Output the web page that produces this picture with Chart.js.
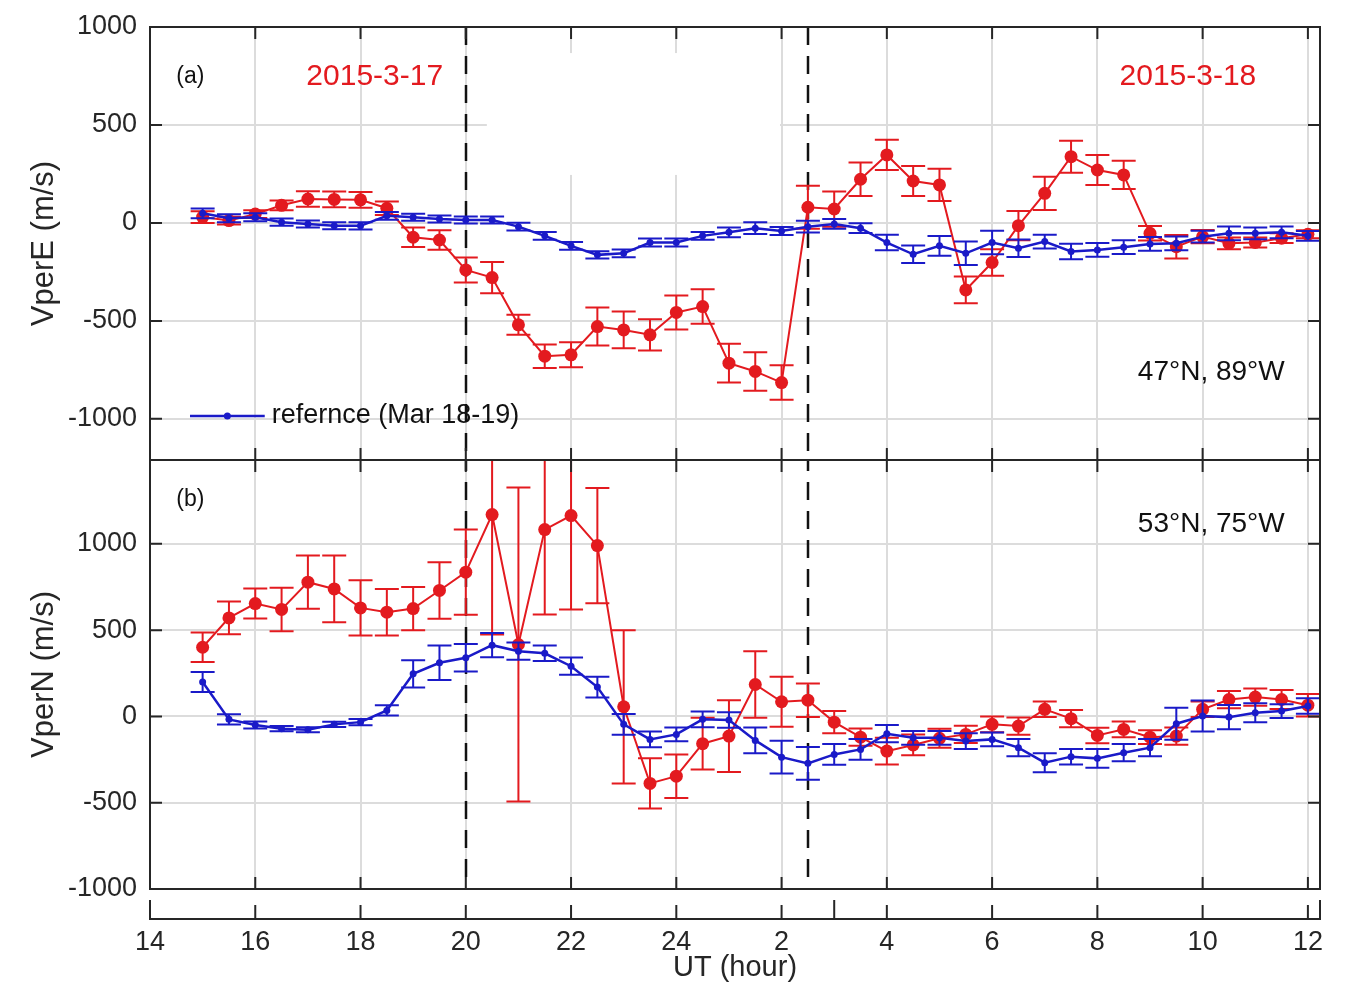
<!DOCTYPE html>
<html>
<head>
<meta charset="utf-8">
<title>VperE / VperN</title>
<script src="https://cdn.jsdelivr.net/npm/chart.js@4.4.1/dist/chart.umd.min.js"></script>
<style>
  html, body { margin: 0; padding: 0; background: #fff; }
  #wrap { position: relative; width: 1353px; height: 993px; }
  canvas { position: absolute; left: 0; }
  #chartA { top: 0; }
  #chartB { top: 460px; }
</style>
</head>
<body>
<div id="wrap">
  <canvas id="chartA" width="1353" height="460"></canvas>
  <canvas id="chartB" width="1353" height="533"></canvas>
</div>
<script>
// UT hours, values above 24 are on 2015-3-18
const hours = [15, 15.5, 16, 16.5, 17, 17.5, 18, 18.5, 19, 19.5, 20, 20.5, 21, 21.5, 22, 22.5,
  23, 23.5, 24, 24.5, 25, 25.5, 26, 26.5, 27, 27.5, 28, 28.5, 29, 29.5, 30, 30.5,
  31, 31.5, 32, 32.5, 33, 33.5, 34, 34.5, 35, 35.5, 36];

// (a) VperE, storm day
const vperE = [30, 12, 45, 90, 122, 120, 118, 75, -73, -87, -240, -279, -520, -680, -673, -529,
  -546, -571, -457, -427, -716, -758, -815, 80, 71, 223, 347, 214, 194, -342, -202, -14,
  151, 338, 270, 245, -53, -121, -70, -104, -100, -78, -58];
const vperEErr = [30, 20, 20, 25, 40, 40, 40, 35, 50, 50, 64, 80, 51, 60, 64, 97,
  94, 80, 87, 88, 99, 98, 88, 110, 90, 85, 77, 77, 82, 68, 68, 75,
  85, 82, 77, 72, 37, 60, 34, 30, 25, 25, 20];
// (a) VperE, reference days
const refE = [49, 24, 29, 4, -5, -14, -15, 36, 29, 20, 15, 15, -19, -66, -117, -163,
  -155, -100, -100, -66, -48, -27, -41, -19, -5, -27, -100, -160, -117, -155, -100, -129,
  -95, -146, -138, -124, -107, -104, -70, -53, -53, -48, -66];
const refEErr = [25, 20, 20, 18, 18, 18, 18, 20, 18, 18, 18, 18, 20, 20, 20, 18,
  20, 20, 20, 20, 25, 30, 20, 30, 25, 25, 40, 45, 50, 60, 60, 45,
  35, 40, 35, 35, 35, 35, 30, 35, 30, 30, 25];

// (b) VperN, storm day
const vperN = [401, 571, 654, 620, 778, 739, 629, 604, 625, 730, 836, 1170, 417, 1083, 1164, 990,
  56, -388, -346, -158, -114, 185, 85, 94, -33, -120, -201, -165, -127, -104, -46, -56,
  41, -13, -110, -75, -120, -114, 41, 98, 112, 98, 65];
const vperNErr = [85, 95, 87, 126, 154, 193, 160, 135, 125, 164, 247, 695, 910, 493, 544, 334,
  444, 145, 126, 150, 208, 193, 145, 97, 64, 50, 77, 60, 55, 50, 45, 50,
  45, 50, 45, 45, 40, 50, 45, 50, 50, 55, 65];
// (b) VperN, reference days
const refN = [199, -17, -50, -71, -77, -46, -33, 35, 247, 311, 340, 413, 378, 366, 291, 170,
  -46, -133, -104, -17, -21, -139, -236, -272, -220, -191, -100, -124, -124, -143, -133, -181,
  -268, -233, -243, -210, -181, -42, 2, -4, 21, 31, 60];
const refNErr = [58, 30, 20, 15, 15, 15, 18, 30, 79, 100, 80, 70, 50, 45, 50, 60,
  60, 45, 40, 45, 45, 75, 95, 95, 60, 60, 50, 40, 40, 45, 40, 50,
  55, 45, 55, 50, 50, 93, 90, 70, 55, 40, 45];

const xTicks = [14, 16, 18, 20, 22, 24, 26, 28, 30, 32, 34, 36];
const yTicks = [-1000, -500, 0, 500, 1000];
const eventLines = [20, 26.5];
const legendLabel = 'refernce (Mar 18-19)';

const RED = '#e31a1f';
const BLUE = '#1a1ac8';
const INK = '#262626';
const GRID = '#dcdcdc';
const FONT = "'Liberation Sans', Arial, Helvetica, sans-serif";

const series = vals => hours.map((h, i) => ({ x: h, y: vals[i] }));

// error bars drawn right before each dataset's line
const errorBars = {
  id: 'errorBars',
  beforeDatasetDraw(chart, args) {
    const ds = chart.data.datasets[args.index];
    if (!ds.errors) return;
    const { ctx, chartArea: a } = chart;
    const xs = args.meta.xScale, ys = args.meta.yScale;
    const cap = 12;
    ctx.save();
    ctx.beginPath();
    ctx.rect(a.left, a.top, a.right - a.left, a.bottom - a.top);
    ctx.clip();
    ctx.strokeStyle = ds.borderColor;
    ctx.lineWidth = 2;
    ctx.beginPath();
    ds.data.forEach((p, i) => {
      const px = xs.getPixelForValue(p.x);
      const t = ys.getPixelForValue(p.y + ds.errors[i]);
      const b = ys.getPixelForValue(p.y - ds.errors[i]);
      ctx.moveTo(px, t); ctx.lineTo(px, b);
      ctx.moveTo(px - cap, t); ctx.lineTo(px + cap, t);
      ctx.moveTo(px - cap, b); ctx.lineTo(px + cap, b);
    });
    ctx.stroke();
    ctx.restore();
  }
};

// frame, inside ticks, dashed event lines, labels, legend
const panel = {
  id: 'panel',
  beforeDatasetsDraw(chart, args, opts) {
    const { ctx, chartArea: a, scales: { x, y } } = chart;
    ctx.save();
    if (opts.blank) {
      const b = opts.blank;
      ctx.fillStyle = '#fff';
      const x0 = x.getPixelForValue(b.x0), x1 = x.getPixelForValue(b.x1);
      const y0 = y.getPixelForValue(b.y1), y1 = y.getPixelForValue(b.y0);
      ctx.fillRect(x0, y0, x1 - x0, y1 - y0);
    }
    ctx.strokeStyle = '#111';
    ctx.lineWidth = 2.5;
    ctx.setLineDash([18, 11]);
    ctx.lineDashOffset = opts.dashOffset || 0;
    eventLines.forEach(v => {
      const px = Math.round(x.getPixelForValue(v));
      ctx.beginPath();
      ctx.moveTo(px, a.top);
      ctx.lineTo(px, a.bottom);
      ctx.stroke();
    });
    ctx.restore();
  },
  afterDraw(chart, args, opts) {
    const { ctx, chartArea: a, scales: { x, y } } = chart;
    const len = 12;
    ctx.save();
    ctx.strokeStyle = INK;
    ctx.lineWidth = 2;
    ctx.beginPath();
    xTicks.forEach(v => {
      const px = x.getPixelForValue(v);
      ctx.moveTo(px, a.top); ctx.lineTo(px, a.top + len);
      ctx.moveTo(px, a.bottom); ctx.lineTo(px, a.bottom - len);
    });
    yTicks.forEach(v => {
      const py = y.getPixelForValue(v);
      ctx.moveTo(a.left, py); ctx.lineTo(a.left + len, py);
      ctx.moveTo(a.right, py); ctx.lineTo(a.right - len, py);
    });
    ctx.stroke();
    ctx.strokeRect(a.left, a.top, a.right - a.left, a.bottom - a.top);

    (opts.labels || []).forEach(l => {
      ctx.font = l.font;
      ctx.fillStyle = l.color;
      ctx.textAlign = l.align;
      ctx.textBaseline = 'middle';
      ctx.fillText(l.text, x.getPixelForValue(l.x), y.getPixelForValue(l.y));
    });

    if (opts.legend) {
      const lg = opts.legend;
      const ds = chart.data.datasets[0];
      const x0 = x.getPixelForValue(lg.x0), x1 = x.getPixelForValue(lg.x1);
      const py = y.getPixelForValue(lg.y);
      ctx.strokeStyle = ds.borderColor;
      ctx.lineWidth = ds.borderWidth;
      ctx.beginPath(); ctx.moveTo(x0, py); ctx.lineTo(x1, py); ctx.stroke();
      ctx.fillStyle = ds.borderColor;
      ctx.beginPath(); ctx.arc((x0 + x1) / 2, py, ds.pointRadius, 0, Math.PI * 2); ctx.fill();
      ctx.font = '27px ' + FONT;
      ctx.fillStyle = '#111';
      ctx.textAlign = 'left';
      ctx.textBaseline = 'middle';
      ctx.fillText(ds.label, x1 + 7, py);
    }

    if (opts.strip) {
      // separate time axis line under panel (b)
      const sy = opts.strip.y;
      ctx.strokeStyle = INK;
      ctx.lineWidth = 2;
      ctx.beginPath();
      ctx.moveTo(a.left, sy - 19); ctx.lineTo(a.left, sy);
      ctx.lineTo(a.right, sy); ctx.lineTo(a.right, sy - 19);
      xTicks.forEach(v => {
        const px = x.getPixelForValue(v);
        ctx.moveTo(px, sy); ctx.lineTo(px, sy - 14);
      });
      const mk = x.getPixelForValue(opts.strip.mark);
      ctx.moveTo(mk, sy); ctx.lineTo(mk, sy - 19);
      ctx.stroke();
    }
    ctx.restore();
  }
};

// drop the extra room Chart.js keeps for end labels
function noPad(s) {
  s.paddingTop = 0; s.paddingBottom = 0; s.paddingLeft = 0; s.paddingRight = 0;
}

function yScale(min, max, title) {
  return {
    type: 'linear',
    min: min,
    max: max,
    afterBuildTicks: s => { s.ticks = yTicks.map(v => ({ value: v })); },
    afterFit: s => { s.width = 150; noPad(s); },
    ticks: { color: INK, padding: 13, font: { family: FONT, size: 27 }, callback: v => String(v) },
    grid: { color: GRID, lineWidth: 2, drawTicks: false },
    border: { display: false },
    title: { display: true, text: title, color: INK, padding: { top: 26, bottom: 0 },
      font: { family: FONT, size: 31 } }
  };
}

function xScale(showLabels) {
  return {
    type: 'linear',
    min: 14,
    max: 36.23,
    afterBuildTicks: s => { s.ticks = xTicks.map(v => ({ value: v })); },
    afterFit: s => { s.height = showLabels ? 104 : 0; noPad(s); },
    ticks: {
      display: showLabels,
      autoSkip: false,
      maxRotation: 0,
      padding: 37,
      color: INK,
      font: { family: FONT, size: 27 },
      callback: v => String(v > 24 ? v - 24 : v)
    },
    grid: { color: GRID, lineWidth: 2, drawTicks: false },
    border: { display: false },
    title: { display: showLabels, text: 'UT (hour)', color: INK, padding: { top: 0, bottom: 8 },
      font: { family: FONT, size: 29 } }
  };
}

function datasets(storm, stormErr, ref, refErr, storyLabel) {
  return [
    { label: legendLabel, data: series(ref), errors: refErr, borderColor: BLUE,
      backgroundColor: BLUE, borderWidth: 2.5, pointRadius: 3.5, pointBorderWidth: 0,
      pointBackgroundColor: BLUE, tension: 0 },
    { label: storyLabel, data: series(storm), errors: stormErr, borderColor: RED,
      backgroundColor: RED, borderWidth: 2, pointRadius: 6.5, pointBorderWidth: 0,
      pointBackgroundColor: RED, tension: 0 }
  ];
}

const common = {
  responsive: false,
  animation: false,
  devicePixelRatio: 1,
  plugins: { legend: { display: false }, tooltip: { enabled: false } }
};

new Chart(document.getElementById('chartA'), {
  type: 'line',
  data: { datasets: datasets(vperE, vperEErr, refE, refEErr, 'VperE') },
  options: {
    ...common,
    layout: { autoPadding: false, padding: { top: 27, right: 33, left: 0, bottom: 0 } },
    scales: { x: xScale(false), y: yScale(-1210, 1000, 'VperE (m/s)') },
    plugins: {
      ...common.plugins,
      panel: {
        blank: { x0: 20.4, x1: 25.97, y0: 245, y1: 867 },
        labels: [
          { text: '(a)', x: 14.5, y: 745, color: '#111', align: 'left', font: '23px ' + FONT },
          { text: '2015-3-17', x: 18.27, y: 745, color: RED, align: 'center', font: '30px ' + FONT },
          { text: '2015-3-18', x: 33.72, y: 745, color: RED, align: 'center', font: '30px ' + FONT },
          { text: '47°N, 89°W', x: 35.56, y: -760, color: '#111', align: 'right', font: '28px ' + FONT }
        ],
        legend: { x0: 14.76, x1: 16.18, y: -985 }
      }
    }
  },
  plugins: [errorBars, panel]
});

new Chart(document.getElementById('chartB'), {
  type: 'line',
  data: { datasets: datasets(vperN, vperNErr, refN, refNErr, 'VperN') },
  options: {
    ...common,
    layout: { autoPadding: false, padding: { top: 0, right: 33, left: 0, bottom: 0 } },
    scales: { x: xScale(true), y: yScale(-1000, 1486, 'VperN (m/s)') },
    plugins: {
      ...common.plugins,
      panel: {
        dashOffset: 7,
        labels: [
          { text: '(b)', x: 14.5, y: 1256, color: '#111', align: 'left', font: '23px ' + FONT },
          { text: '53°N, 75°W', x: 35.56, y: 1112, color: '#111', align: 'right', font: '28px ' + FONT }
        ],
        strip: { y: 459, mark: 27 }
      }
    }
  },
  plugins: [errorBars, panel]
});
</script>
</body>
</html>
